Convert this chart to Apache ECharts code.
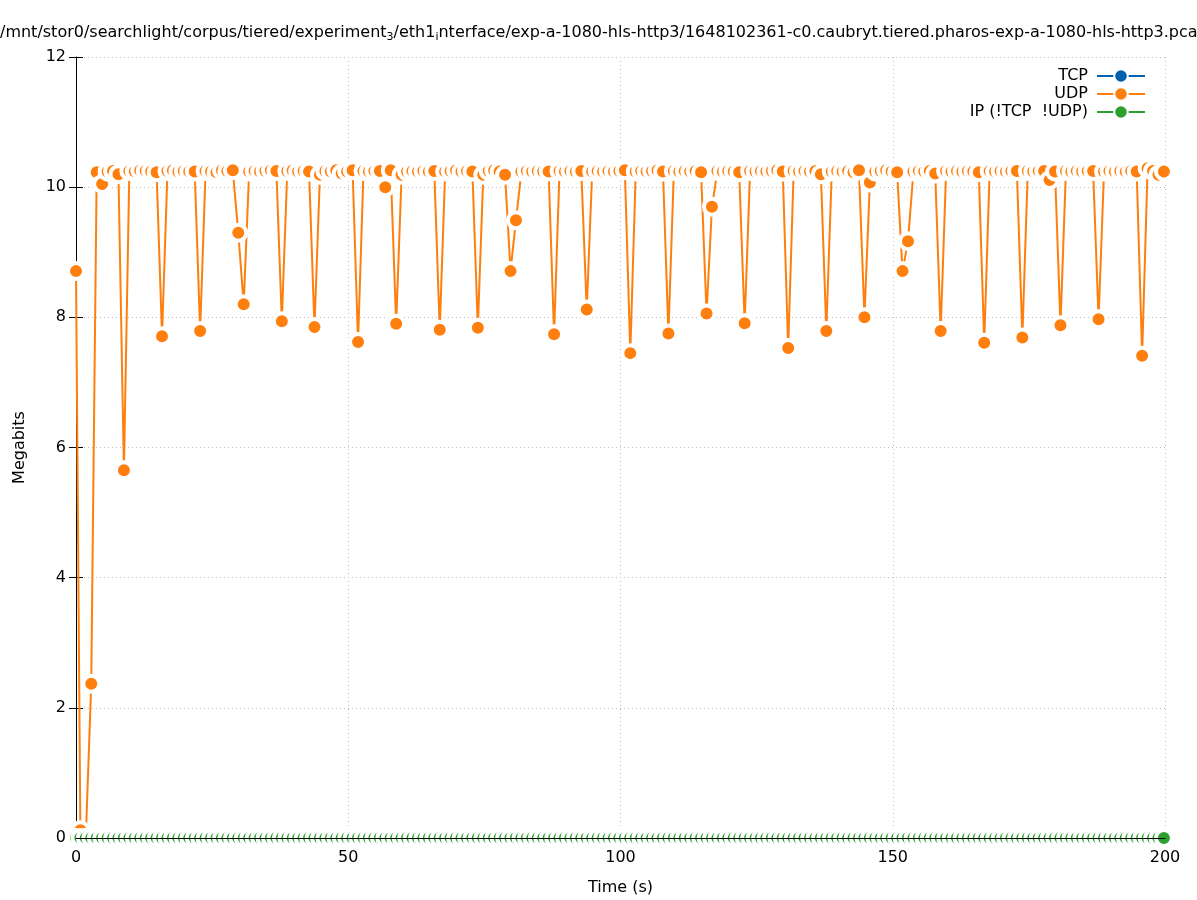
<!DOCTYPE html>
<html>
<head>
<meta charset="utf-8">
<script src="https://cdn.jsdelivr.net/npm/echarts@6/dist/echarts.min.js"></script>
<style>
html,body{margin:0;padding:0;background:#fff;}
#chart{width:1197px;height:900px;}
</style>
</head>
<body>
<div id="chart"></div>
<script>
// Sample times (s)
var times = [
  0, 0.8, 1.8, 2.8, 3.8, 4.8, 5.8, 6.8, 7.8, 8.8, 9.8,
  10.8, 11.8, 12.8, 13.8, 14.8, 15.8, 16.8, 17.8, 18.8, 19.8,
  20.8, 21.8, 22.8, 23.8, 24.8, 25.8, 26.8, 27.8, 28.8, 29.8,
  30.8, 31.8, 32.8, 33.8, 34.8, 35.8, 36.8, 37.8, 38.8, 39.8,
  40.8, 41.8, 42.8, 43.8, 44.8, 45.8, 46.8, 47.8, 48.8, 49.8,
  50.8, 51.8, 52.8, 53.8, 54.8, 55.8, 56.8, 57.8, 58.8, 59.8,
  60.8, 61.8, 62.8, 63.8, 64.8, 65.8, 66.8, 67.8, 68.8, 69.8,
  70.8, 71.8, 72.8, 73.8, 74.8, 75.8, 76.8, 77.8, 78.8, 79.8,
  80.8, 81.8, 82.8, 83.8, 84.8, 85.8, 86.8, 87.8, 88.8, 89.8,
  90.8, 91.8, 92.8, 93.8, 94.8, 95.8, 96.8, 97.8, 98.8, 99.8,
  100.8, 101.8, 102.8, 103.8, 104.8, 105.8, 106.8, 107.8, 108.8, 109.8,
  110.8, 111.8, 112.8, 113.8, 114.8, 115.8, 116.8, 117.8, 118.8, 119.8,
  120.8, 121.8, 122.8, 123.8, 124.8, 125.8, 126.8, 127.8, 128.8, 129.8,
  130.8, 131.8, 132.8, 133.8, 134.8, 135.8, 136.8, 137.8, 138.8, 139.8,
  140.8, 141.8, 142.8, 143.8, 144.8, 145.8, 146.8, 147.8, 148.8, 149.8,
  150.8, 151.8, 152.8, 153.8, 154.8, 155.8, 156.8, 157.8, 158.8, 159.8,
  160.8, 161.8, 162.8, 163.8, 164.8, 165.8, 166.8, 167.8, 168.8, 169.8,
  170.8, 171.8, 172.8, 173.8, 174.8, 175.8, 176.8, 177.8, 178.8, 179.8,
  180.8, 181.8, 182.8, 183.8, 184.8, 185.8, 186.8, 187.8, 188.8, 189.8,
  190.8, 191.8, 192.8, 193.8, 194.8, 195.8, 196.8, 197.8, 198.8, 199.8
];

// UDP throughput (Megabits)
var udpValues = [
  8.71, 0.12, 0.0, 2.37, 10.23, 10.05, 10.24, 10.25, 10.2, 5.65, 10.25,
  10.24, 10.26, 10.25, 10.24, 10.23, 7.71, 10.25, 10.26, 10.24, 10.25,
  10.24, 10.24, 7.79, 10.25, 10.24, 10.23, 10.26, 10.25, 10.26, 9.30,
  8.20, 10.24, 10.25, 10.24, 10.25, 10.26, 10.25, 7.94, 10.25, 10.26,
  10.24, 10.25, 10.24, 7.85, 10.19, 10.25, 10.24, 10.26, 10.21, 10.24,
  10.26, 7.62, 10.25, 10.24, 10.25, 10.25, 10.00, 10.26, 7.90, 10.19,
  10.24, 10.25, 10.24, 10.25, 10.24, 10.25, 7.81, 10.24, 10.25, 10.26,
  10.24, 10.25, 10.24, 7.84, 10.19, 10.25, 10.26, 10.24, 10.19, 8.71,
  9.49, 10.24, 10.25, 10.24, 10.25, 10.24, 10.24, 7.74, 10.25, 10.24,
  10.25, 10.24, 10.25, 8.12, 10.24, 10.25, 10.24, 10.25, 10.24, 10.25,
  10.26, 7.45, 10.24, 10.25, 10.24, 10.25, 10.26, 10.24, 7.75, 10.25,
  10.24, 10.25, 10.24, 10.25, 10.23, 8.06, 9.70, 10.25, 10.24, 10.25,
  10.24, 10.23, 7.91, 10.25, 10.24, 10.25, 10.24, 10.25, 10.26, 10.24,
  7.53, 10.25, 10.24, 10.25, 10.24, 10.25, 10.20, 7.79, 10.24, 10.25,
  10.24, 10.25, 10.23, 10.26, 8.00, 10.07, 10.24, 10.25, 10.26, 10.24,
  10.23, 8.71, 9.17, 10.24, 10.25, 10.24, 10.25, 10.21, 7.79, 10.25,
  10.24, 10.25, 10.24, 10.25, 10.24, 10.23, 7.61, 10.25, 10.24, 10.25,
  10.24, 10.25, 10.25, 7.69, 10.25, 10.24, 10.25, 10.25, 10.11, 10.24,
  7.88, 10.25, 10.24, 10.25, 10.24, 10.25, 10.25, 7.97, 10.24, 10.25,
  10.24, 10.25, 10.24, 10.25, 10.24, 7.41, 10.29, 10.25, 10.19, 10.24
];

// IP (!TCP !UDP) throughput (Megabits)
var ipValues = [
  0, 0, 0, 0, 0, 0, 0, 0, 0, 0, 0,
  0, 0, 0, 0, 0, 0, 0, 0, 0, 0,
  0, 0, 0, 0, 0, 0, 0, 0, 0, 0,
  0, 0, 0, 0, 0, 0, 0, 0, 0, 0,
  0, 0, 0, 0, 0, 0, 0, 0, 0, 0,
  0, 0, 0, 0, 0, 0, 0, 0, 0, 0,
  0, 0, 0, 0, 0, 0, 0, 0, 0, 0,
  0, 0, 0, 0, 0, 0, 0, 0, 0, 0,
  0, 0, 0, 0, 0, 0, 0, 0, 0, 0,
  0, 0, 0, 0, 0, 0, 0, 0, 0, 0,
  0, 0, 0, 0, 0, 0, 0, 0, 0, 0,
  0, 0, 0, 0, 0, 0, 0, 0, 0, 0,
  0, 0, 0, 0, 0, 0, 0, 0, 0, 0,
  0, 0, 0, 0, 0, 0, 0, 0, 0, 0,
  0, 0, 0, 0, 0, 0, 0, 0, 0, 0,
  0, 0, 0, 0, 0, 0, 0, 0, 0, 0,
  0, 0, 0, 0, 0, 0, 0, 0, 0, 0,
  0, 0, 0, 0, 0, 0, 0, 0, 0, 0,
  0, 0, 0, 0, 0, 0, 0, 0, 0, 0,
  0, 0, 0, 0, 0, 0, 0, 0, 0, 0
];

// TCP: no samples visible
var tcpValues = [];

var seriesNames = ['TCP', 'UDP', 'IP (!TCP  !UDP)'];
var seriesColors = ['#0060ad', '#ff7f0e', '#2ca02c'];
var xTicks = { min: 0, max: 200, interval: 50 };
var yTicks = { min: 0, max: 12, interval: 2 };

function pairs(xs, ys) {
  var out = [];
  for (var i = 0; i < ys.length; i++) out.push([xs[i], ys[i]]);
  return out;
}

var FONT = 'DejaVu Sans';
var chart = echarts.init(document.getElementById('chart'), null, { renderer: 'canvas' });

function mkSeries(name, color, data) {
  return {
    name: name,
    type: 'line',
    data: data,
    color: color,
    showAllSymbol: true,
    symbol: 'circle',
    symbolSize: 16,
    lineStyle: { width: 2, color: color },
    itemStyle: { color: color, borderColor: '#ffffff', borderWidth: 4 },
    emphasis: { disabled: true },
    clip: false,
    animation: false
  };
}

var gridLine = { show: true, lineStyle: { color: '#c0c0c0', width: 1, type: [1, 3] } };
var tickStyle = { show: true, inside: true, length: 7, lineStyle: { color: '#000', width: 1 } };

var option = {
  backgroundColor: '#ffffff',
  animation: false,
  title: {
    text: '{a|/mnt/stor0/searchlight/corpus/tiered/experiment}{s|3}{a|/eth1}{s|i}{a|nterface/exp-a-1080-hls-http3/1648102361-c0.caubryt.tiered.pharos-exp-a-1080-hls-http3.pcap}',
    left: -5,
    top: 18,
    textStyle: {
      fontFamily: FONT,
      fontWeight: 'normal',
      rich: {
        a: { fontFamily: FONT, fontSize: 16, color: '#000', lineHeight: 20 },
        s: { fontFamily: FONT, fontSize: 11, color: '#000', padding: [8, 0, 0, 0], lineHeight: 14 }
      }
    }
  },
  legend: {
    orient: 'vertical',
    align: 'right',
    right: 46,
    top: 63,
    itemWidth: 48,
    itemHeight: 17,
    itemGap: 2,
    data: seriesNames,
    lineStyle: { width: 2 },
    itemStyle: { borderColor: '#ffffff', borderWidth: 2 },
    textStyle: { fontFamily: FONT, fontSize: 16, color: '#000', padding: [0, 4, 0, 0] },
    selectedMode: false
  },
  grid: { left: 76, right: 32, top: 57, bottom: 62, outerBoundsMode: 'none', containLabel: false },
  xAxis: [
    {
      type: 'value', position: 'bottom',
      min: xTicks.min, max: xTicks.max, interval: xTicks.interval,
      name: 'Time (s)', nameLocation: 'middle', nameGap: 42,
      nameTextStyle: { fontFamily: FONT, fontSize: 16, color: '#000' },
      axisLine: { show: true, onZero: false, lineStyle: { color: '#000', width: 1 } },
      axisTick: tickStyle,
      axisLabel: { fontFamily: FONT, fontSize: 16, color: '#000', margin: 12 },
      splitLine: gridLine
    },
    {
      type: 'value', position: 'top',
      min: xTicks.min, max: xTicks.max, interval: xTicks.interval,
      axisLine: { show: false },
      axisTick: tickStyle,
      axisLabel: { show: false },
      splitLine: { show: false }
    },
    {
      type: 'value', position: 'bottom', z: 10,
      min: xTicks.min, max: xTicks.max, interval: xTicks.interval,
      axisLine: { show: true, onZero: false, lineStyle: { color: '#000', width: 1 } },
      axisTick: { show: false },
      axisLabel: { show: false },
      splitLine: { show: false }
    }
  ],
  yAxis: [
    {
      type: 'value', position: 'left',
      min: yTicks.min, max: yTicks.max, interval: yTicks.interval,
      name: 'Megabits', nameLocation: 'middle', nameGap: 48, nameRotate: 90,
      nameTextStyle: { fontFamily: FONT, fontSize: 16, color: '#000' },
      axisLine: { show: true, onZero: false, lineStyle: { color: '#000', width: 1 } },
      axisTick: tickStyle,
      axisLabel: { fontFamily: FONT, fontSize: 16, color: '#000', margin: 10 },
      splitLine: gridLine
    },
    {
      type: 'value', position: 'right',
      min: yTicks.min, max: yTicks.max, interval: yTicks.interval,
      axisLine: { show: false },
      axisTick: tickStyle,
      axisLabel: { show: false },
      splitLine: { show: false }
    }
  ],
  series: [
    mkSeries(seriesNames[0], seriesColors[0], pairs(times, tcpValues)),
    mkSeries(seriesNames[1], seriesColors[1], pairs(times, udpValues)),
    mkSeries(seriesNames[2], seriesColors[2], pairs(times, ipValues))
  ]
};
chart.setOption(option);
</script>
</body>
</html>
